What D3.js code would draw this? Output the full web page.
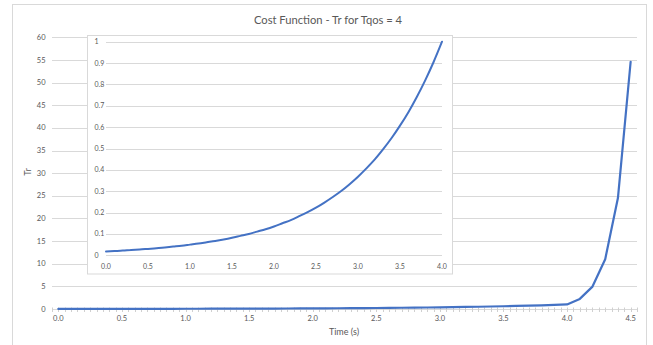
<!DOCTYPE html>
<html>
<head>
<meta charset="utf-8">
<script src="https://cdn.jsdelivr.net/npm/d3@7"></script>
<style>
  html, body { margin: 0; padding: 0; background: #ffffff; }
  svg { display: block; }
  text { font-family: Lato, "Open Sans", sans-serif; fill: #595959; }
</style>
</head>
<body>
<script>
// Time samples (s) and cost Tr at each sample
const time = [0.0, 0.1, 0.2, 0.3, 0.4, 0.5, 0.6, 0.7, 0.8, 0.9,
              1.0, 1.1, 1.2, 1.3, 1.4, 1.5, 1.6, 1.7, 1.8, 1.9,
              2.0, 2.1, 2.2, 2.3, 2.4, 2.5, 2.6, 2.7, 2.8, 2.9,
              3.0, 3.1, 3.2, 3.3, 3.4, 3.5, 3.6, 3.7, 3.8, 3.9,
              4.0, 4.1, 4.2, 4.3, 4.4, 4.5];
const tr = [0.018, 0.020, 0.022, 0.025, 0.027, 0.030, 0.033, 0.037, 0.041, 0.045,
            0.050, 0.055, 0.061, 0.067, 0.074, 0.082, 0.091, 0.100, 0.111, 0.122,
            0.135, 0.150, 0.165, 0.183, 0.202, 0.223, 0.247, 0.273, 0.301, 0.333,
            0.368, 0.407, 0.449, 0.497, 0.549, 0.607, 0.670, 0.741, 0.819, 0.905,
            1.000, 2.23, 4.95, 11.0, 24.5, 54.6];

// Axis tick values
const mainYTicks = [0, 5, 10, 15, 20, 25, 30, 35, 40, 45, 50, 55, 60];
const mainXLabels = [0.0, 0.5, 1.0, 1.5, 2.0, 2.5, 3.0, 3.5, 4.0, 4.5];
const zoomYTicks = [0, 0.1, 0.2, 0.3, 0.4, 0.5, 0.6, 0.7, 0.8, 0.9, 1];
const zoomXTicks = [0.0, 0.5, 1.0, 1.5, 2.0, 2.5, 3.0, 3.5, 4.0];
const zoomMaxTime = 4.0;

const W = 653, H = 345;
const blue = "#4472C4", grid = "#D9D9D9";

const svg = d3.select("body").append("svg").attr("width", W).attr("height", H);

// chart frame
svg.append("rect").attr("x", 12.5).attr("y", 4.5).attr("width", 634).attr("height", 360)
  .attr("fill", "#fff").attr("stroke", grid).attr("stroke-width", 1);

svg.append("text").attr("x", 328).attr("y", 24).attr("text-anchor", "middle")
  .style("font-size", "11.2px").text("Cost Function - Tr for Tqos = 4");

// ---- main chart (category x axis) ----
const x = d3.scaleBand().domain(time.map(String)).range([52, 637]);
const xc = t => x(String(t)) + x.bandwidth() / 2;
const y = d3.scaleLinear().domain([0, 60]).range([309, 37.3]);

const gMain = svg.append("g");
gMain.selectAll("line.grid").data(mainYTicks.filter(v => v > 0)).join("line")
  .attr("class", "grid")
  .attr("x1", 52).attr("x2", 637)
  .attr("y1", d => Math.round(y(d)) + 0.5).attr("y2", d => Math.round(y(d)) + 0.5)
  .attr("stroke", grid).attr("stroke-width", 1);

gMain.selectAll("text.ylab").data(mainYTicks).join("text")
  .attr("class", "ylab")
  .attr("x", 45.5).attr("y", d => y(d)).attr("dy", "0.35em")
  .attr("text-anchor", "end").style("font-size", "7.5px").text(d => d);

// x axis line with cross ticks at every half category
const axY = Math.round(y(0)) + 0.5;
gMain.append("line").attr("x1", 52).attr("x2", 637).attr("y1", axY).attr("y2", axY)
  .attr("stroke", grid).attr("stroke-width", 1);
const halfTicks = d3.range(time.length * 2 + 1);
gMain.selectAll("line.tick").data(halfTicks).join("line")
  .attr("class", "tick")
  .attr("x1", i => Math.round(52 + i * x.bandwidth() / 2) + 0.5)
  .attr("x2", i => Math.round(52 + i * x.bandwidth() / 2) + 0.5)
  .attr("y1", axY - 2).attr("y2", axY + 2.5)
  .attr("stroke", "#D0D0D0").attr("stroke-width", 1);

gMain.selectAll("text.xlab").data(mainXLabels).join("text")
  .attr("class", "xlab")
  .attr("x", d => xc(d)).attr("y", 321)
  .attr("text-anchor", "middle").style("font-size", "7.5px").text(d => d.toFixed(1));

svg.append("text").attr("x", 344).attr("y", 335).attr("text-anchor", "middle")
  .style("font-size", "9px").text("Time (s)");
svg.append("text").attr("transform", "translate(31,172) rotate(-90)")
  .attr("text-anchor", "middle").style("font-size", "9px").text("Tr");

const mainLine = d3.line().x((d, i) => xc(time[i])).y(d => y(d));
gMain.append("path").datum(tr).attr("d", mainLine)
  .attr("fill", "none").attr("stroke", blue).attr("stroke-width", 2.2)
  .attr("stroke-linejoin", "round").attr("stroke-linecap", "round");

// ---- inset: Tr over 0..4 s on a 0..1 scale ----
const zi = time.filter(t => t <= zoomMaxTime + 1e-9).length;
const zTime = time.slice(0, zi), zTr = tr.slice(0, zi);

const gZoom = svg.append("g");
gZoom.append("rect").attr("x", 87.5).attr("y", 35.5).attr("width", 365).attr("height", 238.5)
  .attr("fill", "#fff").attr("stroke", grid).attr("stroke-width", 1);

const zx = d3.scaleLinear().domain([0, 4]).range([106, 442]);
const zy = d3.scaleLinear().domain([0, 1]).range([255.3, 41.7]);

gZoom.selectAll("line.zgrid").data(zoomYTicks).join("line")
  .attr("class", "zgrid")
  .attr("x1", 106).attr("x2", 442)
  .attr("y1", d => Math.round(zy(d)) + 0.5).attr("y2", d => Math.round(zy(d)) + 0.5)
  .attr("stroke", grid).attr("stroke-width", 1);

gZoom.selectAll("text.zylab").data(zoomYTicks).join("text")
  .attr("class", "zylab")
  .attr("x", 94.5).attr("y", d => zy(d)).attr("dy", "0.35em")
  .attr("text-anchor", "start").style("font-size", "7px").text(d => d3.format("")(d));

gZoom.selectAll("text.zxlab").data(zoomXTicks).join("text")
  .attr("class", "zxlab")
  .attr("x", d => zx(d)).attr("y", 268.5)
  .attr("text-anchor", "middle").style("font-size", "7px").text(d => d.toFixed(1));

const zoomLine = d3.line().x((d, i) => zx(zTime[i])).y(d => zy(d)).curve(d3.curveMonotoneX);
gZoom.append("path").datum(zTr).attr("d", zoomLine)
  .attr("fill", "none").attr("stroke", blue).attr("stroke-width", 2)
  .attr("stroke-linejoin", "round").attr("stroke-linecap", "round");
</script>
</body>
</html>
